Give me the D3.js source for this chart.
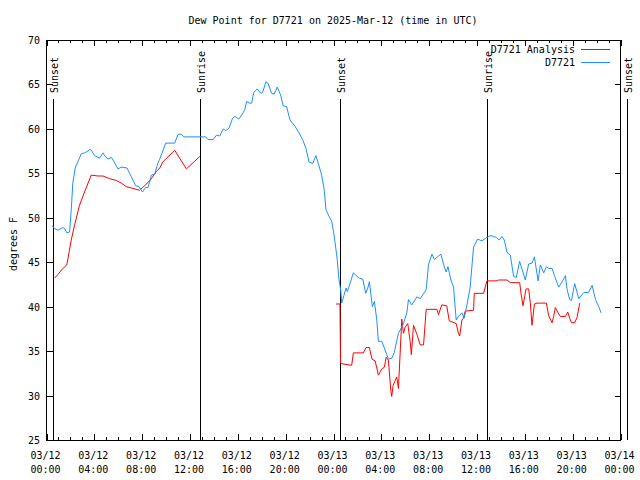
<!DOCTYPE html>
<html>
<head>
<meta charset="utf-8">
<script src="https://cdn.jsdelivr.net/npm/d3@7"></script>
<style>
  html, body { margin: 0; padding: 0; background: #fff; }
  svg { display: block; }
  text { font-family: "DejaVu Sans Mono", "Liberation Mono", monospace; font-size: 10px; fill: #000; }
</style>
</head>
<body>
<svg id="chart" width="640" height="480"></svg>
<script>
// ---- data (hours since 03/12 00:00 UTC, dew point in °F) ----
const titleText = "Dew Point for D7721 on 2025-Mar-12 (time in UTC)";
const yLabel = "degrees F";
const seriesNames = ["D7721 Analysis", "D7721"];
const seriesColors = ["#ff0000", "#1e8fff"];

const hoursObs = [0.48,0.67,0.95,1.37,1.51,1.70,1.93,2.07,2.20,2.40,
  2.62,2.91,3.18,3.46,3.66,3.79,4.02,4.44,4.72,4.92,
  5.14,5.42,5.61,5.97,6.26,6.73,7.10,7.46,7.73,8.02,
  8.29,8.49,8.77,9.05,9.32,9.47,9.97,10.72,11.00,11.28,
  11.48,13.32,13.51,13.93,14.22,14.49,14.77,14.99,15.27,15.56,
  15.75,16.08,16.44,16.59,16.73,16.95,17.15,17.34,17.62,17.93,
  18.07,18.35,18.54,18.82,19.04,19.29,19.58,19.79,20.08,20.36,
  20.78,21.05,21.42,21.70,21.95,22.26,22.53,22.73,23.01,23.23,
  23.37,23.65,23.85,24.04,24.18,24.32,24.46,24.60,24.69,24.88,
  25.05,25.16,25.38,25.66,26.16,26.45,26.70,26.87,27.00,27.25,
  27.42,27.62,27.75,28.04,28.46,28.59,28.88,29.07,29.43,29.71,
  29.85,30.13,30.27,30.55,30.97,31.25,31.75,31.94,32.23,32.44,
  32.78,32.98,33.26,33.42,33.57,33.82,34.04,34.26,34.45,34.74,
  34.93,35.16,35.43,35.71,36.05,36.41,36.83,37.17,37.39,37.61,
  37.86,38.09,38.28,38.51,38.79,39.06,39.29,39.56,39.77,40.04,
  40.32,40.60,40.80,41.11,41.30,41.58,41.80,41.99,42.28,42.50,
  42.83,43.12,43.39,43.54,43.75,43.90,44.17,44.51,44.93,45.34,
  45.63,45.91,46.18,46.38];
const dewObs = [49.1,48.8,48.6,48.9,48.8,48.3,48.4,50.9,53.9,55.6,
  56.3,57.2,57.3,57.5,57.7,57.5,57.0,56.7,57.3,56.9,
  56.6,56.8,56.4,55.5,55.7,55.6,54.6,53.6,53.5,52.9,
  53.4,53.4,54.8,54.9,56.2,56.6,58.4,58.4,59.4,59.4,
  59.1,59.1,58.8,58.8,59.3,59.2,60.0,59.8,60.1,61.2,
  61.4,61.1,61.8,62.2,63.1,62.9,62.9,64.1,64.5,64.0,
  64.1,65.3,65.1,64.0,63.9,64.7,63.8,62.6,62.5,61.0,
  60.3,59.7,58.8,57.8,56.3,56.1,57.0,56.1,54.8,53.1,
  50.9,50.1,49.6,48.1,46.7,45.2,43.0,41.9,40.4,41.3,
  42.1,41.7,42.6,43.8,43.2,43.1,41.5,42.1,42.8,40.0,
  40.6,38.5,36.1,36.1,34.6,34.1,34.2,34.8,37.0,37.7,
  38.1,39.3,40.8,40.2,41.1,40.9,41.9,44.7,45.9,45.3,
  45.7,45.9,44.5,43.9,44.5,43.0,42.2,38.5,38.9,39.3,
  38.7,40.2,42.2,46.7,47.6,47.4,47.8,48.0,47.9,47.8,
  47.5,47.9,47.5,46.1,45.8,43.4,43.3,45.1,44.2,43.0,
  44.8,44.9,45.6,42.9,44.7,43.8,44.5,44.3,44.3,43.4,
  42.2,42.8,43.5,41.9,40.8,40.7,42.6,40.9,41.6,41.6,
  42.4,40.8,40.0,39.3];

const hoursAna = [0.67,0.95,1.23,1.70,2.07,2.35,2.76,3.18,3.74,4.30,
  4.72,5.28,5.84,6.26,6.68,7.23,7.79,8.29,8.77,9.19,
  9.47,9.74,10.72,11.70,12.82,18.00,
  24.21,24.54,24.59,25.52,25.66,26.50,26.72,27.00,27.22,27.48,
  27.62,27.75,28.04,28.26,28.40,28.59,28.79,28.87,28.98,29.29,
  29.43,29.71,29.85,29.99,30.21,30.41,30.51,30.69,30.97,31.25,
  31.53,31.75,32.65,32.78,33.05,33.47,33.68,34.26,34.45,34.55,
  34.74,34.87,35.01,35.71,35.77,36.55,36.83,37.67,37.81,38.51,
  38.79,39.57,39.68,39.85,39.98,40.10,40.32,40.46,40.60,40.80,
  41.02,41.80,41.99,42.28,42.41,42.55,42.78,42.97,43.39,43.59,
  43.75,43.90,44.17,44.37,44.59];
const dewAna = [43.2,43.6,44.1,44.7,47.5,49.2,51.4,52.9,54.8,54.7,
  54.7,54.4,54.2,53.9,53.5,53.3,53.1,53.7,54.4,55.2,
  55.6,56.3,57.6,55.5,56.9,null,
  40.3,40.3,33.6,33.4,34.8,34.8,35.4,35.4,34.1,33.9,
  33.1,32.3,33.0,33.2,34.3,34.0,30.6,29.9,31.1,32.1,
  30.8,38.6,37.0,37.7,38.1,36.1,34.6,37.9,36.9,35.7,
  35.7,39.7,39.7,39.1,40.2,40.1,38.4,38.1,37.0,36.7,
  38.5,38.7,39.5,39.6,41.5,41.5,42.9,42.9,43.0,43.0,
  42.7,42.7,41.5,40.1,41.1,42.0,42.0,40.4,37.9,40.3,
  40.4,40.4,39.0,38.2,38.9,39.9,39.3,38.9,38.9,39.4,
  38.7,38.2,38.2,38.8,40.4];

const eventNames = ["Sunset", "Sunrise", "Sunset", "Sunrise", "Sunset"];
const eventHours = [0.54, 12.84, 24.54, 36.84, 48.55];

const xMajorHours = [0, 4, 8, 12, 16, 20, 24, 28, 32, 36, 40, 44, 48];
const xTickDates = ["03/12","03/12","03/12","03/12","03/12","03/12","03/13","03/13","03/13","03/13","03/13","03/13","03/14"];
const xTickTimes = ["00:00","04:00","08:00","12:00","16:00","20:00","00:00","04:00","08:00","12:00","16:00","20:00","00:00"];
const yTicks = [25, 30, 35, 40, 45, 50, 55, 60, 65, 70];

// ---- layout ----
const L = 46.5, R = 620.5, T = 40, B = 440;
const svg = d3.select("#chart");

const x = d3.scaleLinear().domain([0, 48]).range([L, R]);
const y = d3.scaleLinear().domain([25, 70]).range([B, T]);

// title
svg.append("text").attr("x", 333).attr("y", 24).attr("text-anchor", "middle").text(titleText);

// y-axis label
svg.append("text")
  .attr("transform", "translate(13,244) rotate(-90)")
  .attr("text-anchor", "middle")
  .attr("dy", "0.35em")
  .text(yLabel);

// axes
const minorHours = d3.range(0, 49, 1);

function styleAxis(g) {
  g.select(".domain").remove();
  g.selectAll(".tick line").attr("stroke", "#000").attr("shape-rendering", "crispEdges");
}

svg.append("g").attr("transform", `translate(0,${B})`)
  .call(d3.axisBottom(x).tickValues(minorHours).tickSize(-3).tickFormat(""))
  .call(styleAxis);
svg.append("g").attr("transform", `translate(0,${T})`)
  .call(d3.axisTop(x).tickValues(minorHours).tickSize(-3).tickFormat(""))
  .call(styleAxis);
svg.append("g").attr("transform", `translate(0,${T})`)
  .call(d3.axisTop(x).tickValues(xMajorHours).tickSize(-6).tickFormat(""))
  .call(styleAxis);

const xAxisG = svg.append("g").attr("transform", `translate(0,${B})`)
  .call(d3.axisBottom(x).tickValues(xMajorHours).tickSize(-6).tickFormat(""))
  .call(styleAxis);
xAxisG.selectAll(".tick").each(function(d, i) {
  const t = d3.select(this).append("text")
    .attr("text-anchor", "middle")
    .attr("x", -1.5)
    .attr("y", 18.5);
  t.append("tspan").attr("x", -1.5).attr("y", 18.5).text(xTickDates[i]);
  t.append("tspan").attr("x", -1.5).attr("y", 32.5).text(xTickTimes[i]);
});

const yAxisG = svg.append("g").attr("transform", `translate(${L},0)`)
  .call(d3.axisLeft(y).tickValues(yTicks).tickSize(-6).tickPadding(6.5).tickFormat(d3.format("d")))
  .call(styleAxis);
yAxisG.selectAll(".tick text").attr("dy", "0.35em");
yAxisG.attr("font-family", null).attr("font-size", null);
xAxisG.attr("font-family", null).attr("font-size", null);

svg.append("g").attr("transform", `translate(${R},0)`)
  .call(d3.axisRight(y).tickValues(yTicks).tickSize(-6).tickFormat(""))
  .call(styleAxis);

// frame
svg.append("rect")
  .attr("x", L).attr("y", T + 0.5).attr("width", R - L).attr("height", B - T - 0.5)
  .attr("fill", "none").attr("stroke", "#000").attr("shape-rendering", "crispEdges");

// sunrise / sunset markers
const ev = svg.append("g");
eventHours.forEach((h, i) => {
  const xp = Math.round(x(h)) + 0.5;
  ev.append("line")
    .attr("x1", xp).attr("x2", xp).attr("y1", 99).attr("y2", B)
    .attr("stroke", "#000").attr("shape-rendering", "crispEdges");
  ev.append("text")
    .attr("transform", `translate(${xp + 1},93) rotate(-90)`)
    .attr("text-anchor", "start")
    .attr("dy", "0.35em")
    .text(eventNames[i]);
});

// lines
const line = d3.line()
  .defined(d => d[1] !== null)
  .x(d => x(d[0]))
  .y(d => y(d[1]));

const anaData = d3.zip(hoursAna, dewAna);
const obsData = d3.zip(hoursObs, dewObs);

svg.append("path").datum(anaData)
  .attr("fill", "none").attr("stroke", seriesColors[0]).attr("stroke-width", 1)
  .attr("d", line);
svg.append("path").datum(obsData)
  .attr("fill", "none").attr("stroke", seriesColors[1]).attr("stroke-width", 1)
  .attr("d", line);

// legend
const leg = svg.append("g");
seriesNames.forEach((name, i) => {
  const ly = 49.5 + i * 13;
  leg.append("text").attr("x", 575).attr("y", ly).attr("dy", "0.35em")
    .attr("text-anchor", "end").text(name);
  leg.append("line").attr("x1", 581).attr("x2", 610).attr("y1", ly).attr("y2", ly)
    .attr("stroke", seriesColors[i]).attr("shape-rendering", "crispEdges");
});
</script>
</body>
</html>
